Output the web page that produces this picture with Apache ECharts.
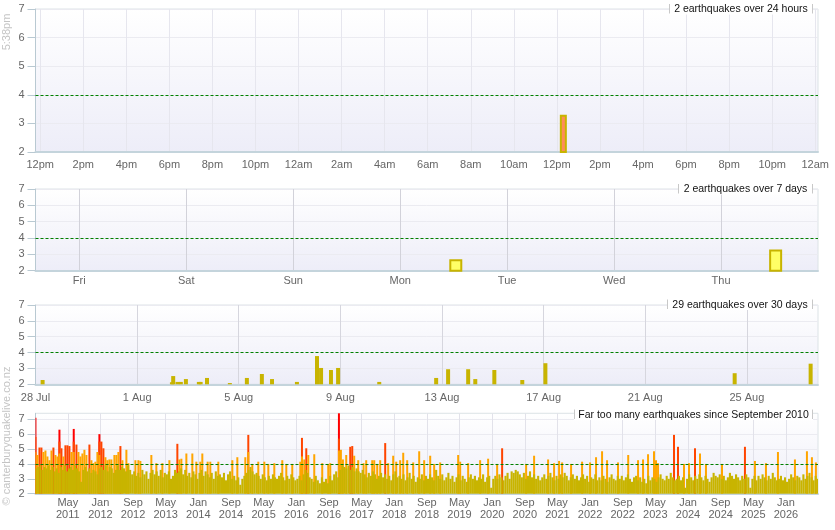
<!DOCTYPE html>
<html><head><meta charset="utf-8">
<script src="https://cdn.jsdelivr.net/npm/echarts@6/dist/echarts.min.js"></script>
<style>html,body{margin:0;padding:0;background:#fff}#c{width:835px;height:530px}</style>
</head><body><div id="c"></div>
<script>
// ---------- 24 hours panel (hours since Wed 26 Aug 2026 00:00) ----------
const hourTicks = [12,14,16,18,20,22,24,26,28,30,32,34,36,38,40,42,44,46,48];
const hourLabels = ['12pm','2pm','4pm','6pm','8pm','10pm','12am','2am','4am','6am','8am','10am','12pm','2pm','4pm','6pm','8pm','10pm','12am'];
const quakes24h = [[36.3, 3.3]];

// ---------- 7 days panel (days since Thu 20 Aug 2026 00:00) ----------
const dayTicks = [1,2,3,4,5,6,7];
const dayLabels = ['Fri','Sat','Sun','Mon','Tue','Wed','Thu'];
const quakes7d = [[4.52, 2.7], [7.51, 3.3]];

// ---------- 30 days panel (days since 28 Jul 2026 00:00) ----------
const dateTicks = [0,4,8,12,16,20,24,28];
const dateLabels = ['28 Jul','1 Aug','5 Aug','9 Aug','13 Aug','17 Aug','21 Aug','25 Aug'];
const quakes30d = [[0.28,2.27],[5.37,2.13],[5.42,2.52],[5.59,2.15],[5.72,2.15],[5.92,2.33],[6.43,2.15],[6.50,2.15],
  [6.75,2.4],[7.65,2.08],[8.32,2.4],[8.91,2.65],[9.31,2.33],[10.29,2.15],[11.08,3.78],[11.24,3.03],[11.63,2.9],
  [11.91,3.03],[13.53,2.15],[15.77,2.4],[16.24,2.95],[17.03,2.95],[17.31,2.33],[18.06,2.9],[19.16,2.27],[20.07,3.33],
  [27.52,2.7],[30.51,3.3]];

// ---------- since September 2010 (decimal years) ----------
const yearLabels = ['May 2011','Jan 2012','Sep 2012','May 2013','Jan 2014','Sep 2014','May 2015','Jan 2016','Sep 2016',
  'May 2017','Jan 2018','Sep 2018','May 2019','Jan 2020','Sep 2020','May 2021','Jan 2022','Sep 2022','May 2023',
  'Jan 2024','Sep 2024','May 2025','Jan 2026'];
const baseStart = 2010.69;      // first half-month bin
const baseStep = 1/24;          // half-month bins
const baseMag2010 = [3.7,3.8,3.9,3.6,3.8,3.7,3.9,3.6,3.8,3.5, 3.7,3.4,3.8,3.6,3.9,3.5,3.7,3.8,3.6,3.9,
  3.7,3.5,2.8,3.6,3.8,3.5,3.7,3.4,3.6,3.5, 3.3,3.7,3.8,3.6,3.9,3.5,3.8,3.7,3.4,3.6,
  3.9,3.6,3.8,3.7,3.5,3.9,3.6,3.3,3.5,3.2, 3.4,3.1,3.6,3.3,3.5,3.0,3.4,3.6,3.3,3.5,
  3.2,3.6,3.1,3.4,3.3,3.5,3.0,3.2,3.6,3.4, 3.5,3.7,3.3,3.6,3.2,3.4,3.1,3.5,3.3,3.0,
  3.4,3.6,3.2,3.5,3.3,3.1,3.4,3.0,3.5,3.2, 3.3,3.1,3.4,2.9,3.3,3.5,3.0,3.2];
const baseMag2014 = [2.9,3.1,2.6,3.0,3.2,3.4,3.6,3.8,3.5,3.3, 3.4,3.2,3.0,3.3,3.1,2.9,3.2,3.0,3.3,3.1,
  3.0,3.2,3.4,3.1,2.9,3.2,3.0,3.3,3.1,2.9, 3.0,3.2,2.9,3.3,3.6,3.4,3.1,3.0,2.8,3.2,
  2.9,2.7,3.1,2.8,3.0,2.7,3.2,2.9,3.3,3.5, 3.1,3.6,3.9,3.8,3.7,3.9,3.6,3.8,3.5,3.7,
  3.5,3.4,3.6,3.3,3.1,3.4,3.2,3.5,3.3,3.0, 3.2,3.4,3.1,3.3,3.0,3.2,2.9,3.3,3.5,3.1,
  3.2,3.0,3.3,2.9,3.1,3.4,3.0,3.2,2.8,3.1, 3.0,3.3,2.9,3.2,3.0,3.3,3.1,2.9];
const baseMag2018 = [3.6,3.2,3.0,3.3,2.9,3.1,3.4,3.0,3.2,2.8, 3.1,3.3,2.9,3.2,3.0,2.8,3.1,3.3,3.0,3.2,
  2.9,3.1,3.0,3.3,2.8,3.1,3.2,2.4,3.0,3.2, 3.0,3.3,3.1,2.9,3.2,3.4,3.0,3.5,3.4,3.6,
  3.5,3.3,3.1,3.4,3.0,3.2,3.5,3.1,3.3,3.0, 3.2,2.9,3.1,3.3,3.0,3.2,3.4,3.1,2.9,3.2,
  3.0,3.3,3.1,3.4,3.2,2.9,3.1,3.3,3.0,3.2, 2.9,3.1,3.3,3.0,3.2,2.8,3.1,3.0,3.3,2.9,
  3.1,2.9,3.2,3.0,2.8,3.1,3.3,3.0,2.9,3.2, 3.0,3.2,2.9,3.1,3.3,3.0,2.8,3.1];
const baseMag2022 = [3.2,2.9,3.1,2.8,3.0,2.7,3.2,2.9,3.1,3.0, 2.8,3.1,3.3,3.0,2.9,3.2,3.0,3.4,3.1,2.9,
  3.0,3.2,2.9,3.1,2.4,3.0,3.3,3.1,2.9,3.2, 3.0,3.3,3.1,2.9,3.2,3.0,2.8,3.1,3.4,3.2,
  3.1,3.3,3.0,3.2,2.9,3.1,3.4,3.2,3.0,3.3, 3.1,2.9,3.2,3.0,3.3,3.1,2.4,3.0,3.2,2.9,
  3.2,3.0,3.3,3.1,2.9,3.2,3.0,3.4,3.1,2.9, 3.0,3.2,2.9,3.1,2.8,3.0,3.3,3.1,2.9,3.2,
  3.1,2.9,3.3,3.0,3.2,3.4,3.1,2.9,3.2,3.0];
// larger quakes [decimal year, magnitude]
const bigQuakes = [
  [2010.674,7.1],[2010.674,5.8],[2010.674,4.8],[2010.715,4.6],[2010.756,5.1],[2010.796,5.1],[2010.837,4.8],[2010.878,4.9],
  [2010.919,4.5],[2010.960,4.25],[2011.001,4.9],[2011.041,5.1],[2011.082,4.6],[2011.123,4.5],
  [2011.164,6.3],[2011.164,5.5],[2011.164,4.7],[2011.205,5.05],[2011.245,4.5],[2011.286,5.25],[2011.327,5.25],
  [2011.368,5.2],[2011.409,4.8],[2011.456,6.35],[2011.456,5.5],[2011.456,4.8],[2011.511,5.3],[2011.552,4.8],
  [2011.592,4.5],[2011.633,4.7],[2011.674,4.95],[2011.715,4.6],[2011.776,5.3],[2011.817,4.25],[2011.858,4.05],
  [2011.898,4.15],[2011.939,4.8],[2011.980,6.0],[2011.980,5.5],[2011.980,4.6],[2012.021,5.5],[2012.062,5.05],
  [2012.103,4.45],[2012.143,4.25],[2012.184,4.3],[2012.225,4.3],[2012.286,4.6],[2012.327,4.6],[2012.368,4.8],
  [2012.409,5.2],[2012.450,4.25],[2012.531,4.95],[2012.572,4.05],[2012.715,4.25],[2012.776,4.25],[2012.817,4.2],
  [2013.041,4.6],[2013.143,4.05],[2013.266,4.05],[2013.409,4.25],[2013.572,5.35],[2013.613,4.3],[2013.654,4.35],
  [2013.756,4.7],[2013.878,4.7],[2013.960,4.15],[2014.041,4.15],[2014.082,4.7],[2014.191,4.15],[2014.245,4.15],
  [2014.409,4.15],
  [2014.695,4.25],[2014.797,4.45],[2014.960,4.45],[2015.021,5.95],[2015.021,4.8],[2015.103,4.0],[2015.225,4.15],
  [2015.348,4.15],[2015.430,4.0],[2015.552,4.05],[2015.715,4.25],[2015.797,4.0],[2015.919,4.0],[2016.083,4.15],
  [2016.117,5.75],[2016.117,4.5],[2016.164,4.3],[2016.205,5.05],[2016.246,4.6],[2016.368,4.65],[2016.531,4.05],
  [2016.654,4.0],[2016.695,4.05],[2016.872,7.8],[2016.872,5.7],[2016.872,4.9],[2016.912,4.95],[2016.953,4.3],
  [2017.021,4.6],[2017.103,5.15],[2017.144,5.2],[2017.184,4.55],[2017.266,4.25],[2017.375,4.05],[2017.429,4.25],
  [2017.552,4.25],[2017.593,4.25],[2017.654,4.0],[2017.715,4.25],[2017.817,5.4],[2017.878,4.05],[2017.980,4.55],
  [2018.042,4.15],[2018.123,4.25],[2018.185,4.75],[2018.266,4.25],[2018.389,4.1],[2018.511,4.85],[2018.613,4.25],
  [2018.736,4.55],[2018.817,4.0],[2018.940,4.1],[2019.307,4.6],[2019.348,4.15],[2019.511,4.05],[2019.756,4.25],
  [2019.919,4.35],[2020.103,4.0],[2020.205,5.05],[2020.695,4.0],[2020.858,4.55],[2021.144,4.3],[2021.266,4.05],
  [2021.368,4.2],[2021.430,4.1],[2021.613,4.0],[2021.838,4.15],[2022.001,4.1],[2022.123,4.45],[2022.246,4.85],
  [2022.348,4.25],[2022.572,4.1],
  [2022.780,4.6],[2022.981,4.25],[2023.083,4.3],[2023.185,4.65],[2023.307,4.85],[2023.348,4.25],[2023.389,4.05],
  [2023.715,5.95],[2023.797,5.15],[2023.919,4.0],[2024.021,4.05],[2024.144,5.05],[2024.246,4.7],[2024.368,4.0],
  [2024.695,4.0],[2025.164,5.15],[2025.368,4.2],[2025.593,4.05],[2025.838,4.8],[2026.185,4.3],[2026.430,4.85],
  [2026.532,4.45],[2026.613,4.1]
];

// ---------- build ----------
const FONT = 'Liberation Sans, Arial, sans-serif';
const baseMag = baseMag2010.concat(baseMag2014, baseMag2018, baseMag2022);
const baseData = baseMag.map((m, i) => [baseStart + i * baseStep, m]);
const bigSorted = bigQuakes.slice().sort((a, b) => b[1] - a[1]);
const monIdx = {Jan: 0, May: 4, Sep: 8};
const yearTicks = yearLabels.map(s => { const p = s.split(' '); return +p[1] + monIdx[p[0]] / 12; });

function band(m) { return m >= 6 ? '#ff0000' : m >= 5 ? '#ff4500' : m >= 4 ? '#ffa500' : '#c8b400'; }
function grad() {
  return new echarts.graphic.LinearGradient(0, 0, 0, 1, [{offset: 0, color: '#ffffff'}, {offset: 1, color: '#ededf8'}]);
}
function xAx(gi, min, max, ticks, labels, fmt, margin, splitColor) {
  return {
    type: 'value', gridIndex: gi, min: min, max: max,
    axisLine: {show: true, onZero: false, lineStyle: {color: '#c4d4dc', width: 2}},
    axisTick: {show: false, customValues: ticks},
    axisLabel: {
      customValues: ticks, color: '#666', fontSize: 11, fontFamily: FONT, margin: margin, lineHeight: 12,
      formatter: function (v) {
        let best = -1, bd = 1e9;
        ticks.forEach((t, i) => { const d = Math.abs(t - v); if (d < bd) { bd = d; best = i; } });
        return best < 0 ? '' : fmt(labels[best]);
      }
    },
    splitLine: {show: true, lineStyle: {color: splitColor, width: 1}}
  };
}
function yAx(gi, max) {
  return {
    type: 'value', gridIndex: gi, min: 2, max: max, interval: 1,
    axisLine: {show: true, onZero: false, lineStyle: {color: '#b9c9d2', width: 1}},
    axisTick: {show: true, length: 8, customValues: [2, 3, 4, 5, 6, 7], lineStyle: {color: '#b9c9d2'}},
    axisLabel: {customValues: [2, 3, 4, 5, 6, 7], color: '#666', fontSize: 11, fontFamily: FONT, margin: 11},
    splitLine: {show: true, lineStyle: {color: '#ebebf1'}}
  };
}
const ml = {
  silent: true, symbol: 'none', label: {show: false}, animation: false,
  lineStyle: {color: '#008000', type: [3, 2], width: 1}, data: [{yAxis: 4}]
};
const same = s => s;
const gb = {left: 35.5, right: 17, show: true, borderColor: '#dce3e6', borderWidth: 1};

function box(x1, x2, cy, text) {
  return {
    type: 'group', z: 100, children: [
      {type: 'rect', shape: {x: x1, y: cy - 6, width: x2 - x1, height: 11}, style: {fill: '#fff'}, z: 100},
      {type: 'line', shape: {x1: x1 + 0.5, y1: cy - 5.5, x2: x1 + 0.5, y2: cy + 4}, style: {stroke: '#c8c8c8', lineWidth: 1}, z: 101},
      {type: 'line', shape: {x1: x2 - 0.5, y1: cy - 5.5, x2: x2 - 0.5, y2: cy + 4}, style: {stroke: '#c8c8c8', lineWidth: 1}, z: 101},
      {type: 'text', x: (x1 + x2) / 2, y: cy, z: 102,
        style: {text: text, fill: '#111', font: '10.5px ' + FONT, textAlign: 'center', textVerticalAlign: 'middle'}}
    ]
  };
}

const chart = echarts.init(document.getElementById('c'), null, {renderer: 'canvas'});
chart.setOption({
  animation: false,
  backgroundColor: '#fff',
  grid: [
    Object.assign({}, gb, {top: 9, height: 143, backgroundColor: grad()}),
    Object.assign({}, gb, {top: 189, height: 81.7, backgroundColor: grad()}),
    Object.assign({}, gb, {top: 305, height: 79.3, backgroundColor: grad()}),
    Object.assign({}, gb, {top: 413.3, height: 80.4, backgroundColor: grad()})
  ],
  xAxis: [
    xAx(0, 11.78, 48.13, hourTicks, hourLabels, same, 7, '#e6e6ee'),
    xAx(1, 0.591, 7.906, dayTicks, dayLabels, same, 4, '#d2d2da'),
    xAx(2, 0, 30.8, dateTicks, dateLabels, same, 8, '#d6d6de'),
    xAx(3, 2010.674, 2026.655, yearTicks, yearLabels, s => s.replace(' ', '\n'), 3, '#e2e2ea')
  ],
  yAxis: [yAx(0, 7), yAx(1, 7), yAx(2, 7), yAx(3, 7.4)],
  series: [
    {type: 'bar', xAxisIndex: 0, yAxisIndex: 0, data: quakes24h, barWidth: 7,
      itemStyle: {color: '#ff8c5a', borderColor: '#c8b400', borderWidth: 2}, markLine: ml},
    {type: 'bar', xAxisIndex: 1, yAxisIndex: 1, data: quakes7d, barWidth: 13,
      itemStyle: {color: '#ffff66', borderColor: '#c8b400', borderWidth: 2}, markLine: ml},
    {type: 'bar', xAxisIndex: 2, yAxisIndex: 2, data: quakes30d, barWidth: 4,
      itemStyle: {color: '#c8b400'}, markLine: ml},
    {type: 'bar', xAxisIndex: 3, yAxisIndex: 3, data: bigSorted, barWidth: 2, barGap: '-100%',
      itemStyle: {color: p => band(p.value[1])}},
    {type: 'bar', xAxisIndex: 3, yAxisIndex: 3, data: baseData, barWidth: 2.1, barGap: '-100%',
      itemStyle: {color: '#c8b400'}, markLine: ml}
  ],
  graphic: [
    box(669, 813, 9.5, '2 earthquakes over 24 hours'),
    box(678, 813, 189.5, '2 earthquakes over 7 days'),
    box(667, 813, 305, '29 earthquakes over 30 days'),
    box(574, 813, 415, 'Far too many earthquakes since September 2010'),
    {type: 'text', x: 7, y: 32, rotation: Math.PI / 2, z: 100,
      style: {text: '5:38pm', fill: '#c4c4c4', font: '11px ' + FONT, textAlign: 'center', textVerticalAlign: 'middle'}},
    {type: 'text', x: 7, y: 436, rotation: Math.PI / 2, z: 100,
      style: {text: '© canterburyquakelive.co.nz', fill: '#c4c4c4', font: '11px ' + FONT, textAlign: 'center', textVerticalAlign: 'middle'}}
  ]
});
</script></body></html>
